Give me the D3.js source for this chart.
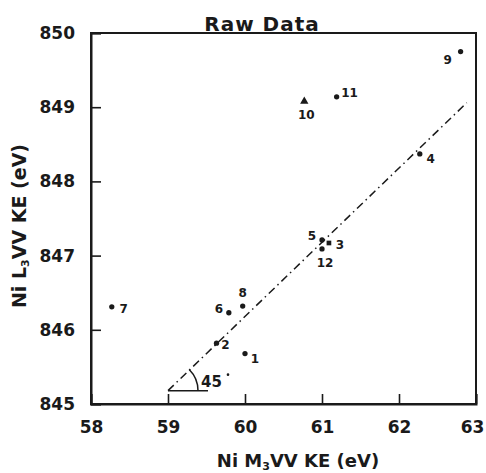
<!DOCTYPE html>
<html>
<head>
<meta charset="utf-8">
<script src="https://cdn.jsdelivr.net/npm/d3@7"></script>
<style>
  html, body { margin: 0; padding: 0; background: #fff; }
  svg text { font-family: "DejaVu Sans", sans-serif; font-weight: bold; fill: #1a1a1a; }
</style>
</head>
<body>
<svg id="chart" width="486" height="473"></svg>
<script>
// Sample numbers and measured kinetic energies (eV)
const sampleIds = ["1", "2", "3", "4", "5", "6", "7", "8", "9", "10", "11", "12"];
const m3vvKE = [60.0, 59.63, 61.09, 62.27, 61.0, 59.79, 58.27, 59.97, 62.80, 60.77, 61.19, 61.0];
const l3vvKE = [845.68, 845.82, 847.17, 848.37, 847.21, 846.23, 846.31, 846.32, 849.75, 849.08, 849.14, 847.09];
const markerShapes = ["dot", "dot", "square", "dot", "dot", "dot", "dot", "dot", "dot", "triangle", "dot", "dot"];

// Unit-slope reference line
const fitX = [59.0, 62.88];
const fitY = [845.18, 849.06];

const xTicks = [58, 59, 60, 61, 62, 63];
const yTicks = [845, 846, 847, 848, 849, 850];

const svg = d3.select("#chart");
const ink = "#1a1a1a";

const x = d3.scaleLinear().domain([58, 63]).range([91, 476]);
const y = d3.scaleLinear().domain([845, 850]).range([404, 33]);

// Frame
svg.append("rect")
  .attr("x", x(58)).attr("y", y(850))
  .attr("width", x(63) - x(58)).attr("height", y(845) - y(850))
  .attr("fill", "none").attr("stroke", ink).attr("stroke-width", 2);

// Axes with inward ticks
const xAxis = d3.axisBottom(x).tickValues(xTicks).tickFormat(d3.format("d"))
  .tickSize(-10).tickPadding(17);
const yAxis = d3.axisLeft(y).tickValues(yTicks).tickFormat(d3.format("d"))
  .tickSize(-10).tickPadding(16);

const gx = svg.append("g").attr("transform", `translate(0,${y(845)})`).call(xAxis);
const gy = svg.append("g").attr("transform", `translate(${x(58)},0)`).call(yAxis);
[gx, gy].forEach(g => {
  g.select(".domain").attr("stroke", ink).attr("stroke-width", 2);
  g.selectAll(".tick line").attr("stroke", ink).attr("stroke-width", 1.6);
  g.selectAll(".tick text").attr("font-size", 17).attr("font-family", "DejaVu Sans")
    .attr("font-weight", "bold").attr("fill", ink);
});
// keep the last x label inside the page edge
gx.selectAll(".tick text").filter(d => d === 63).attr("dx", -4);

// Dash-dot reference line
svg.append("path")
  .datum(fitX.map((d, i) => [d, fitY[i]]))
  .attr("d", d3.line().x(d => x(d[0])).y(d => y(d[1])))
  .attr("fill", "none").attr("stroke", ink).attr("stroke-width", 1.5)
  .attr("stroke-dasharray", "8,4,1.5,4");

// 45 degree angle marker at the line's origin
const ox = x(fitX[0]), oy = y(fitY[0]);
svg.append("line")
  .attr("x1", ox).attr("y1", oy).attr("x2", ox + 40).attr("y2", oy)
  .attr("stroke", ink).attr("stroke-width", 1.5);
const arc = d3.arc()({ innerRadius: 30, outerRadius: 30, startAngle: Math.PI / 2 - Math.PI / 4, endAngle: Math.PI / 2 });
svg.append("path").attr("d", arc).attr("transform", `translate(${ox},${oy})`)
  .attr("fill", "none").attr("stroke", ink).attr("stroke-width", 1.5);
svg.append("text").attr("x", ox + 33).attr("y", oy - 4).attr("font-size", 15).text("45");
svg.append("circle").attr("cx", ox + 60).attr("cy", oy - 16).attr("r", 1.3).attr("fill", ink);

// Data markers
const pts = sampleIds.map((id, i) => ({ id, x: m3vvKE[i], y: l3vvKE[i], shape: markerShapes[i] }));
const sym = { dot: d3.symbolCircle, square: d3.symbolSquare, triangle: d3.symbolTriangle };
const symSize = { dot: 22, square: 22, triangle: 30 };
svg.append("g").selectAll("path").data(pts).join("path")
  .attr("d", d => d3.symbol(sym[d.shape], symSize[d.shape])())
  .attr("transform", d => `translate(${x(d.x)},${y(d.y)})`)
  .attr("fill", ink);

// Sample number labels, placed beside each marker
const labelOffset = {
  "1": [10, 5], "2": [9, 2], "3": [11, 2], "4": [11, 5], "5": [-10, -4], "6": [-10, -4],
  "7": [12, 2], "8": [0, -13], "9": [-13, 8], "10": [2, 14], "11": [13, -4], "12": [3, 14]
};
svg.append("g").selectAll("text").data(pts).join("text")
  .attr("x", d => x(d.x) + labelOffset[d.id][0])
  .attr("y", d => y(d.y) + labelOffset[d.id][1])
  .attr("text-anchor", "middle").attr("dominant-baseline", "central")
  .attr("font-size", 12)
  .text(d => d.id);

// Title
svg.append("text").attr("x", 262).attr("y", 31).attr("text-anchor", "middle")
  .attr("font-size", 20).attr("letter-spacing", 1).text("Raw Data");

// Axis titles
const xt = svg.append("text").attr("x", 298).attr("y", 467).attr("text-anchor", "middle")
  .attr("font-size", 18);
xt.append("tspan").text("Ni M");
xt.append("tspan").attr("font-size", 11).attr("dy", 3).text("3");
xt.append("tspan").attr("dy", -3).text("VV  KE (eV)");

const yt = svg.append("text").attr("transform", "translate(26,226) rotate(-90)")
  .attr("text-anchor", "middle").attr("font-size", 19);
yt.append("tspan").text("Ni  L");
yt.append("tspan").attr("font-size", 11).attr("dy", 3).text("3");
yt.append("tspan").attr("dy", -3).text("VV  KE (eV)");
</script>
</body>
</html>
